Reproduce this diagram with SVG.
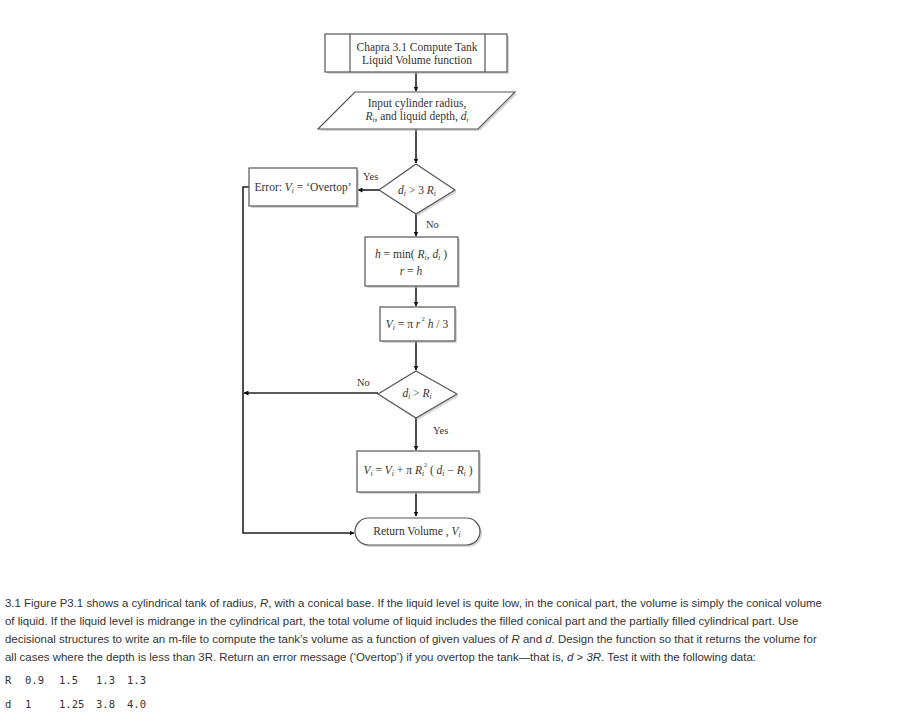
<svg xmlns="http://www.w3.org/2000/svg" width="920" height="721" viewBox="0 0 920 721">
<style>
.box{fill:#fff;stroke:#555;stroke-width:1.2}
.sh{fill:#bbb;opacity:0.6}
.t{font-family:"Liberation Serif","DejaVu Serif",serif;font-size:11.5px;fill:#333;text-anchor:middle}
.i{font-style:italic}
.lbl{font-family:"Liberation Serif","DejaVu Serif",serif;font-size:10.5px;fill:#333}
.c{fill:none;stroke:#222;stroke-width:1.6}
.p{font-family:"Liberation Sans",Arial,sans-serif;font-size:11.45px;fill:#333}
.m{font-family:"DejaVu Sans Mono","Liberation Mono",monospace;font-size:10.5px;fill:#333}
</style>
<defs>
<marker id="ah" viewBox="0 0 10 10" refX="9" refY="5" markerWidth="5" markerHeight="5" orient="auto" markerUnits="userSpaceOnUse">
<path d="M0,0 L10,5 L0,10 z" fill="#111"/>
</marker>
</defs>
<rect width="920" height="721" fill="#fff"/>

<g id="connectors">
<line class="c" x1="416" y1="72" x2="416" y2="91" marker-end="url(#ah)"/>
<line class="c" x1="416" y1="129" x2="416" y2="163" marker-end="url(#ah)"/>
<line class="c" x1="379" y1="190" x2="358" y2="190" marker-end="url(#ah)"/>
<line class="c" x1="416" y1="214" x2="416" y2="236" marker-end="url(#ah)"/>
<line class="c" x1="416" y1="286" x2="416" y2="306" marker-end="url(#ah)"/>
<line class="c" x1="416" y1="341" x2="416" y2="370" marker-end="url(#ah)"/>
<line class="c" x1="378" y1="393" x2="244" y2="393" marker-end="url(#ah)"/>
<line class="c" x1="416" y1="418" x2="416" y2="450" marker-end="url(#ah)"/>
<line class="c" x1="416" y1="492" x2="416" y2="516" marker-end="url(#ah)"/>
<polyline class="c" points="249,187 243,187 243,533 354,533" marker-end="url(#ah)"/>
<text class="lbl" x="363" y="180">Yes</text>
<text class="lbl" x="426" y="228">No</text>
<text class="lbl" x="357" y="386">No</text>
<text class="lbl" x="433" y="434">Yes</text>
</g>

<g id="start">
<rect class="sh" x="327" y="36" width="182" height="38"/>
<rect class="box" x="325" y="34" width="182" height="38"/>
<line class="box" x1="350" y1="34" x2="350" y2="72"/>
<line class="box" x1="485" y1="34" x2="485" y2="72"/>
<text class="t" x="417" y="51">Chapra 3.1 Compute Tank</text>
<text class="t" x="417" y="64">Liquid Volume function</text>
</g>

<g id="input">
<polygon class="sh" points="357,94 517,94 480,131 320,131"/>
<polygon class="box" points="355,92 515,92 478,129 318,129"/>
<text class="t" x="417" y="107">Input cylinder radius,</text>
<text class="t" x="417" y="120"><tspan class="i">R</tspan><tspan class="i" font-size="7" dy="2">i</tspan><tspan dy="-2">, and liquid depth, </tspan><tspan class="i">d</tspan><tspan class="i" font-size="7" dy="2">i</tspan></text>
</g>

<g id="dec1">
<polygon class="sh" points="418,166 457,192 418,216 381,192"/>
<polygon class="box" points="416,164 455,190 416,214 379,190"/>
<text class="t" x="417" y="194"><tspan class="i">d</tspan><tspan class="i" font-size="7.5" dy="2">i</tspan><tspan dy="-2"> &gt; 3 </tspan><tspan class="i">R</tspan><tspan class="i" font-size="7.5" dy="2">i</tspan></text>
</g>

<g id="error">
<rect class="sh" x="251" y="170" width="108" height="38"/>
<rect class="box" x="249" y="168" width="108" height="38"/>
<text class="t" x="303" y="191">Error: <tspan class="i">V</tspan><tspan class="i" font-size="7.5" dy="2">i</tspan><tspan dy="-2"> = ‘Overtop’</tspan></text>
</g>

<g id="hmin">
<rect class="sh" x="367" y="239" width="93" height="49"/>
<rect class="box" x="365" y="237" width="93" height="49"/>
<text class="t" x="411" y="258"><tspan class="i">h</tspan> = min( <tspan class="i">R</tspan><tspan class="i" font-size="7.5" dy="2">i</tspan><tspan dy="-2">, </tspan><tspan class="i">d</tspan><tspan class="i" font-size="7.5" dy="2">i</tspan><tspan dy="-2"> )</tspan></text>
<text class="t" x="411" y="275"><tspan class="i">r</tspan> = <tspan class="i">h</tspan></text>
</g>

<g id="cone">
<rect class="sh" x="382" y="309" width="75" height="34"/>
<rect class="box" x="380" y="307" width="75" height="34"/>
<text class="t" x="417" y="328"><tspan class="i">V</tspan><tspan class="i" font-size="7.5" dy="2">i</tspan><tspan dy="-2"> = π </tspan><tspan class="i">r</tspan><tspan font-size="6" dy="-7"> 2</tspan><tspan dy="7"> </tspan><tspan class="i">h</tspan> / 3</text>
</g>

<g id="dec2">
<polygon class="sh" points="418,373 459,396 418,420 380,396"/>
<polygon class="box" points="416,371 457,394 416,418 378,394"/>
<text class="t" x="417" y="397"><tspan class="i">d</tspan><tspan class="i" font-size="7.5" dy="2">i</tspan><tspan dy="-2"> &gt; </tspan><tspan class="i">R</tspan><tspan class="i" font-size="7.5" dy="2">i</tspan></text>
</g>

<g id="cyl">
<rect class="sh" x="359" y="453" width="122" height="41"/>
<rect class="box" x="357" y="451" width="122" height="41"/>
<text class="t" x="418" y="474"><tspan class="i">V</tspan><tspan class="i" font-size="7.5" dy="2">i</tspan><tspan dy="-2"> = </tspan><tspan class="i">V</tspan><tspan class="i" font-size="7.5" dy="2">i</tspan><tspan dy="-2"> +  π </tspan><tspan class="i">R</tspan><tspan class="i" font-size="7.5" dy="2">i</tspan><tspan font-size="6" dy="-9">2</tspan><tspan dy="7">  ( </tspan><tspan class="i">d</tspan><tspan class="i" font-size="7.5" dy="2">i</tspan><tspan dy="-2"> − </tspan><tspan class="i">R</tspan><tspan class="i" font-size="7.5" dy="2">i</tspan><tspan dy="-2"> )</tspan></text>
</g>

<g id="return">
<rect class="sh" x="357" y="520" width="125" height="27" rx="13.5"/>
<rect class="box" x="355" y="518" width="125" height="27" rx="13.5"/>
<text class="t" x="417" y="535">Return Volume  , <tspan class="i">V</tspan><tspan class="i" font-size="7.5" dy="2">i</tspan></text>
</g>

<g id="problem">
<text class="p" x="5" y="607">3.1 Figure P3.1 shows a cylindrical tank of radius, <tspan font-style="italic">R</tspan>, with a conical base. If the liquid level is quite low, in the conical part, the volume is simply the conical volume</text>
<text class="p" x="5" y="625">of liquid. If the liquid level is midrange in the cylindrical part, the total volume of liquid includes the filled conical part and the partially filled cylindrical part. Use</text>
<text class="p" x="5" y="643">decisional structures to write an m-file to compute the tank’s volume as a function of given values of <tspan font-style="italic">R</tspan> and <tspan font-style="italic">d</tspan>. Design the function so that it returns the volume for</text>
<text class="p" x="5" y="661">all cases where the depth is less than 3R. Return an error message (‘Overtop’) if you overtop the tank—that is, <tspan font-style="italic">d</tspan> &gt; <tspan font-style="italic">3R</tspan>. Test it with the following data:</text>
<text class="m" y="684"><tspan x="5">R</tspan><tspan x="25">0.9</tspan><tspan x="59">1.5</tspan><tspan x="96">1.3</tspan><tspan x="127">1.3</tspan></text>
<text class="m" y="708"><tspan x="5">d</tspan><tspan x="25">1</tspan><tspan x="59">1.25</tspan><tspan x="96">3.8</tspan><tspan x="127">4.0</tspan></text>
</g>
</svg>
